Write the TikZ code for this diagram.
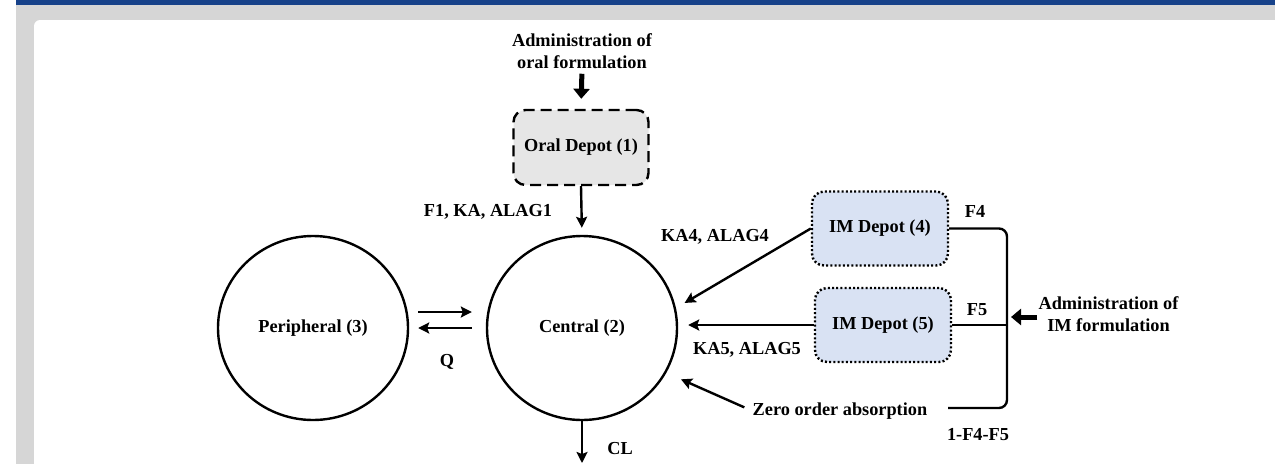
\documentclass[tikz,border=0pt]{standalone}
\usepackage{fontspec}
\setmainfont{Liberation Serif}
\usetikzlibrary{shapes.geometric,arrows.meta,calc}
\definecolor{topblue}{HTML}{17428A}
\definecolor{framegray}{HTML}{D6D6D6}
\definecolor{oralfill}{HTML}{E6E6E6}
\definecolor{imfill}{HTML}{D9E2F3}
\tikzset{
  lbl/.style={inner sep=0pt, font=\fontsize{18.3}{22}\selectfont\bfseries, align=center},
  comp/.style={ellipse, draw, line width=2.4pt, minimum width=190pt, minimum height=184pt, inner sep=0pt, font=\fontsize{18.3}{22}\selectfont\bfseries},
  oralbox/.style={draw, line width=2.4pt, dash pattern=on 11pt off 6pt, fill=oralfill, rounded corners=12pt, minimum width=135pt, minimum height=75pt, font=\fontsize{18.3}{22}\selectfont\bfseries},
  imbox/.style={draw, line width=2.4pt, dash pattern=on 2pt off 2.2pt, fill=imfill, rounded corners=12pt, minimum width=136pt, minimum height=74pt, font=\fontsize{18.3}{22}\selectfont\bfseries},
  arr/.style={line width=2.4pt, -{Stealth[length=11pt,width=11pt,inset=2pt]}},
  bigarr/.style={line width=5pt, -{Triangle[length=10pt,width=16pt]}},
  plain/.style={line width=2.4pt},
}
\begin{document}
\begin{tikzpicture}[x=1pt,y=-1pt]
\useasboundingbox (0,0) rectangle (1275,464);
\fill[white] (0,0) rectangle (1275,464);
\fill[framegray] (16,5) rectangle (1275,464);
\fill[topblue] (16,0) rectangle (1275,5);
\fill[white] (1275,464) -- (34,464) [rounded corners=6pt] -- (34,20) [sharp corners] -- (1275,20) -- cycle;

% compartments
\node[comp] (periph) at (313,328) {Peripheral (3)};
\node[comp] (central) at (582,328) {Central (2)};
\node[oralbox] (oral) at (581,147.5) {Oral Depot (1)};
\node[imbox] (im4) at (880,228.5) {IM Depot (4)};
\node[imbox] (im5) at (883,325) {IM Depot (5)};

% texts
\node[lbl] (oraltxt) at (582,51) {Administration of\\oral formulation};
\node[lbl] (imtxt) at (1108.5,314) {Administration of\\IM formulation};
\node[lbl] (zero) at (840,411) {Zero order absorption};
\node[lbl] (f1) at (488,212) {F1, KA, ALAG1};
\node[lbl] (ka4) at (715,237) {KA4, ALAG4};
\node[lbl] (ka5) at (747,350) {KA5, ALAG5};
\node[lbl] (q) at (447,362) {Q};
\node[lbl] (cl) at (620,449) {CL};
\node[lbl] (f4) at (975,211) {F4};
\node[lbl] (f5) at (977,310) {F5};
\node[lbl] (f45) at (978,435) {1-F4-F5};

\coordinate (bx) at (1007,0);
\coordinate (zend) at (948,408);
\coordinate (clend) at (582,463);

% oral input
\draw[bigarr, shorten <=5pt, shorten >=10pt] (oraltxt.south) -- (oral.north);
\draw[arr, shorten >=7pt] (oral.south) -- (central.north);

% peripheral exchange
\draw[arr] ($(periph.east)+(9,-16)$) -- ($(central.west)+(-14,-16)$);
\draw[arr] ($(central.west)+(-14,0)$) -- ($(periph.east)+(9,0)$);

% IM depots
\draw[arr, shorten >=10pt] (im4.west) -- (central.12);
\draw[arr, shorten >=10pt] (im5.west) -- (im5.west -| central.east);
\draw[arr, shorten <=9pt, shorten >=16pt] (zero.west) -- (central.-28);

% bracket
\draw[plain, rounded corners=8pt] (im4.east) -- (im4.east -| bx) -- (zend -| bx) -- (zend);
\draw[plain] (im5.east) -- (im5.east -| bx);
\draw[bigarr, shorten <=1pt, shorten >=4pt] ($(imtxt.west)+(0,3)$) -- ($(imtxt.west -| bx)+(0,3)$);

% clearance
\draw[arr] (central.south) -- (clend);
\end{tikzpicture}
\end{document}
